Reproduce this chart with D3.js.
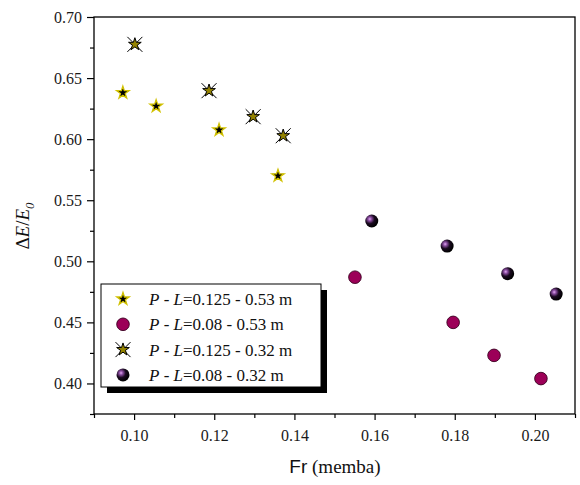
<!DOCTYPE html>
<html>
<head>
<meta charset="utf-8">
<script src="https://cdn.jsdelivr.net/npm/d3@7"></script>
<style>
  body { margin: 0; background: #fff; }
  svg { display: block; font-family: "Times New Roman", "Liberation Serif", Tinos, Times, serif; }
</style>
</head>
<body>
<svg id="chart" width="580" height="485"></svg>
<script>
// series data
const fr_125_53 = [0.0972, 0.1055, 0.1212, 0.1359]
const de_125_53 = [0.638, 0.627, 0.6075, 0.570]

const fr_08_53 = [0.1551, 0.1796, 0.1898, 0.2015]
const de_08_53 = [0.487, 0.450, 0.423, 0.404]

const fr_125_32 = [0.1002, 0.1187, 0.1297, 0.1372]
const de_125_32 = [0.6776, 0.6397, 0.6184, 0.6028]

const fr_08_32 = [0.1593, 0.1781, 0.1932, 0.2053]
const de_08_32 = [0.533, 0.5125, 0.4899, 0.4732]

const xTicks = [0.10, 0.12, 0.14, 0.16, 0.18, 0.20]
const yTicks = [0.40, 0.45, 0.50, 0.55, 0.60, 0.65, 0.70]

const legendLabels = [
  ["0.125 - 0.53 m", "star"],
  ["0.08 - 0.53 m", "circle"],
  ["0.125 - 0.32 m", "astar"],
  ["0.08 - 0.32 m", "sphere"]
]

const serif = "'Times New Roman', 'Liberation Serif', Tinos, Times, serif"

const margin = { top: 17, right: 5, bottom: 71, left: 94 }
const width = 580 - margin.left - margin.right
const height = 485 - margin.top - margin.bottom

const svg = d3.select("#chart")

// gradient for the shaded balls
const defs = svg.append("defs")
const grad = defs.append("radialGradient")
  .attr("id", "ball")
  .attr("cx", "35%").attr("cy", "35%").attr("r", "65%")
grad.append("stop").attr("offset", "0%").attr("stop-color", "#e0a8f0")
grad.append("stop").attr("offset", "22%").attr("stop-color", "#8a4ca0")
grad.append("stop").attr("offset", "55%").attr("stop-color", "#1a0a20")
grad.append("stop").attr("offset", "100%").attr("stop-color", "#000")

const g = svg.append("g")
  .attr("transform", `translate(${margin.left},${margin.top})`)

const x = d3.scaleLinear().domain([0.09, 0.21]).range([0, width])
const y = d3.scaleLinear().domain([0.375, 0.70]).range([height, 0])

// minor ticks
const xMinor = d3.range(0.09, 0.2101, 0.01).map(d => +d.toFixed(3)).filter(d => !xTicks.some(t => Math.abs(t - d) < 1e-6))
const yMinor = d3.range(0.375, 0.7001, 0.025).map(d => +d.toFixed(3)).filter(d => !yTicks.some(t => Math.abs(t - d) < 1e-6))

g.append("g")
  .attr("transform", `translate(0,${height})`)
  .call(d3.axisBottom(x).tickValues(xTicks).tickFormat(d3.format(".2f")).tickSize(6).tickPadding(10).tickSizeOuter(0))
g.append("g")
  .attr("transform", `translate(0,${height})`)
  .call(d3.axisBottom(x).tickValues(xMinor).tickFormat("").tickSize(4).tickSizeOuter(0))

g.append("g")
  .call(d3.axisLeft(y).tickValues(yTicks).tickFormat(d3.format(".2f")).tickSize(7).tickPadding(5).tickSizeOuter(0))
g.append("g")
  .call(d3.axisLeft(y).tickValues(yMinor).tickFormat("").tickSize(4).tickSizeOuter(0))

g.selectAll(".domain").remove()
g.selectAll(".tick line").attr("stroke", "#000").attr("stroke-width", 1.2)
g.selectAll(".tick text")
  .attr("fill", "#1a1a1a")
  .attr("font-family", null)
  .style("font-family", serif)
  .style("font-size", "16px")

// frame
g.append("rect")
  .attr("x", 0).attr("y", 0)
  .attr("width", width).attr("height", height)
  .attr("fill", "none")
  .attr("stroke", "#000")
  .attr("stroke-width", 1.3)

// symbol painters
const starPath = d3.symbol(d3.symbolStar, 48)()
const starPathBig = d3.symbol(d3.symbolStar, 50)()

function drawStar(sel) {
  sel.append("path").attr("d", starPath)
    .attr("fill", "#000").attr("stroke", "#d2c200").attr("stroke-width", 1.3)
}
function drawCircle(sel) {
  sel.append("circle").attr("r", 6.3)
    .attr("fill", "#9c0058").attr("stroke", "#3a0020").attr("stroke-width", 0.9)
}
function drawAstar(sel) {
  sel.append("path").attr("d", "M-7.5,-7.5L7.5,7.5M-7.5,7.5L7.5,-7.5")
    .attr("stroke", "#000").attr("stroke-width", 1)
  sel.append("path").attr("d", starPathBig)
    .attr("fill", "#948300").attr("stroke", "#000").attr("stroke-width", 1)
}
function drawSphere(sel) {
  sel.append("circle").attr("r", 6.5).attr("fill", "url(#ball)")
}
const painters = { star: drawStar, circle: drawCircle, astar: drawAstar, sphere: drawSphere }

function plotSeries(xs, ys, kind) {
  const pts = g.append("g").selectAll("g")
    .data(xs.map((v, i) => [v, ys[i]]))
    .join("g")
    .attr("transform", d => `translate(${x(d[0])},${y(d[1])})`)
  pts.each(function () { painters[kind](d3.select(this)) })
}

plotSeries(fr_125_53, de_125_53, "star")
plotSeries(fr_08_53, de_08_53, "circle")
plotSeries(fr_125_32, de_125_32, "astar")
plotSeries(fr_08_32, de_08_32, "sphere")

// legend
const lx = 101 - margin.left, ly = 284 - margin.top, lw = 220, lh = 103
const legend = g.append("g")
legend.append("rect")
  .attr("x", lx + 6).attr("y", ly + 6).attr("width", lw).attr("height", lh)
  .attr("fill", "#000")
legend.append("rect")
  .attr("x", lx).attr("y", ly).attr("width", lw).attr("height", lh)
  .attr("fill", "#fff").attr("stroke", "#000").attr("stroke-width", 1)

legendLabels.forEach((item, i) => {
  const rowY = ly + 15 + i * 25.3
  const sym = legend.append("g").attr("transform", `translate(${lx + 22},${rowY})`)
  painters[item[1]](sym)
  const t = legend.append("text")
    .attr("x", lx + 48).attr("y", rowY + 6)
    .style("font-family", serif)
    .style("font-size", "17px")
    .attr("fill", "#111")
  t.append("tspan").style("font-style", "italic").text("P")
  t.append("tspan").text(" - ")
  t.append("tspan").style("font-style", "italic").text("L")
  t.append("tspan").text("=" + item[0])
})

// axis titles
const xt = svg.append("text")
  .attr("x", 335).attr("y", 473)
  .attr("text-anchor", "middle")
  .style("font-family", serif)
  .style("font-size", "19px")
  .attr("fill", "#111")
xt.append("tspan").style("font-family", "'Liberation Sans', Arial, sans-serif").text("Fr")
xt.append("tspan").text(" (memba)")

const yt = svg.append("text")
  .attr("transform", "translate(29,226) rotate(-90)")
  .attr("text-anchor", "middle")
  .style("font-family", serif)
  .style("font-size", "19px")
  .attr("fill", "#111")
yt.append("tspan").text("Δ")
yt.append("tspan").style("font-style", "italic").text("E")
yt.append("tspan").text("/")
yt.append("tspan").style("font-style", "italic").text("E")
yt.append("tspan").style("font-style", "italic").style("font-size", "13px").attr("dy", 5).text("0")
</script>
</body>
</html>
